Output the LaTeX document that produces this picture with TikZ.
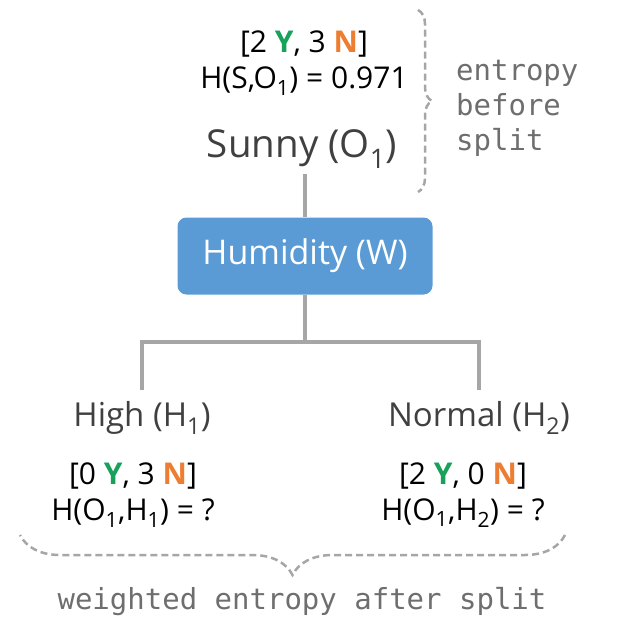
\documentclass[tikz,border=0pt]{standalone}
\usepackage{fontspec}
\setmainfont{Open Sans}
\setmonofont{DejaVu Sans Mono}
\usetikzlibrary{positioning, decorations.pathreplacing}
\definecolor{boxblue}{HTML}{5B9BD5}
\definecolor{yesgreen}{HTML}{17A15B}
\definecolor{noorange}{HTML}{ED7D31}
\definecolor{linegray}{HTML}{A6A6A6}
\definecolor{textgray}{HTML}{404040}
\definecolor{notegray}{HTML}{6E6E6E}
\newcommand{\cntY}{\textcolor{yesgreen}{\textbf{Y}}}
\newcommand{\cntN}{\textcolor{noorange}{\textbf{N}}}
\newcommand{\idx}[1]{\textsubscript{#1}}

\begin{document}
\begin{tikzpicture}[x=1pt,y=-1pt,
    count/.style={font=\fontsize{30}{36}\selectfont, align=center, inner sep=0pt},
    title/.style={font=\fontsize{38.5}{44}\selectfont, text=textgray, inner sep=6pt},
    leaf/.style={font=\fontsize{33}{38}\selectfont, text=textgray, inner xsep=0pt, inner ysep=11pt},
    split/.style={fill=boxblue, rounded corners=9pt, minimum width=255pt, minimum height=77pt,
        text=white, font=\fontsize{34}{40}\selectfont},
    branch/.style={linegray, line width=4pt},
    bracket/.style={linegray, line width=2.5pt, dash pattern=on 7pt off 4pt, decorate},
    note/.style={font=\ttfamily\fontsize{29}{35}\selectfont, text=notegray, inner sep=0pt}]
    \useasboundingbox (0,0) rectangle (632,640);
    % Wurzel
    \node[count] (rootcnt) at (304,63) {[2 \cntY, 3 \cntN]\\H(S,O\idx{1}) = 0.971};
    \node[title] (sunny) at (302,149) {Sunny (O\idx{1})};
    \node[split] (humid) at (305,256) {Humidity (W)};
    \coordinate (fork) at (305,342);
    % Blaetter
    \node[leaf] (high) at (142,418) {High (H\idx{1})};
    \node[leaf] (normal) at (479,418) {Normal (H\idx{2})};
    \node[count] (highcnt) at (133,495) {[0 \cntY, 3 \cntN]\\H(O\idx{1},H\idx{1}) = ?};
    \node[count] (normcnt) at (463,495) {[2 \cntY, 0 \cntN]\\H(O\idx{1},H\idx{2}) = ?};
    % Verbindungen
    \draw[branch] (humid.north |- sunny.south) -- (humid.north);
    \draw[branch] (humid.south) -- (fork);
    \draw[branch] (fork) -| (high.north);
    \draw[branch] (fork) -| (normal.north);
    % Klammern
    \draw[bracket, decoration={brace, amplitude=14pt}] (418,10) -- (418,192);
    \node[note, anchor=west, align=left] (before) at (456,108) {entropy\\before\\split};
    \draw[bracket, decoration={brace, amplitude=40pt}] (565,535) -- (20,535);
    \node[note] (after) at (302,602) {weighted entropy after split};
\end{tikzpicture}
\end{document}
